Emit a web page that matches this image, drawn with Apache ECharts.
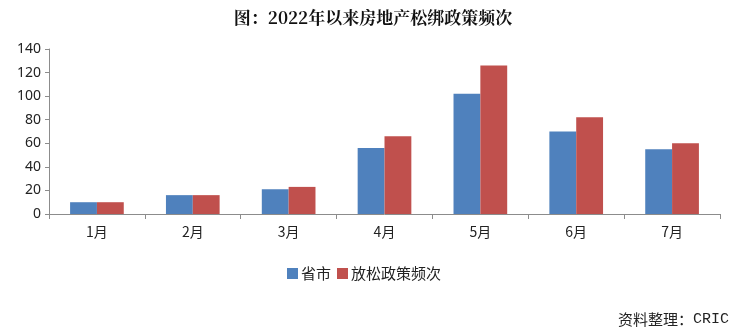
<!DOCTYPE html>
<html><head><meta charset="utf-8">
<script src="https://cdn.jsdelivr.net/npm/echarts@6/dist/echarts.min.js"></script>
<style>html,body{margin:0;padding:0;background:#fff}#c{width:746px;height:336px}</style>
</head><body><div id="c"></div>
<script>
var categories = ['1月','2月','3月','4月','5月','6月','7月'];
var provinceCity = [10, 16, 21, 56, 102, 70, 55];
var easingCount = [10, 16, 23, 66, 126, 82, 60];
var seriesNames = ['省市', '放松政策频次'];
var yTicks = [0, 20, 40, 60, 80, 100, 120, 140];

var chart = echarts.init(document.getElementById('c'), null, {renderer: 'canvas'});
chart.setOption({
  animation: false,
  backgroundColor: '#fff',
  title: [{
    text: '图：2022年以来房地产松绑政策频次',
    left: 'center', top: 4,
    textStyle: {fontFamily: '"Noto Serif CJK SC","Noto Sans CJK SC",serif', fontWeight: 'bold', fontSize: 17, color: '#111'}
  }, {
    text: '资料整理：{m|CRIC}',
    right: 12, top: 307,
    textStyle: {fontFamily: '"Noto Sans CJK SC",sans-serif', fontWeight: 'normal', fontSize: 15, color: '#222',
      rich: {m: {fontFamily: '"Liberation Mono","DejaVu Sans Mono",monospace', fontSize: 15, color: '#222'}}}
  }],
  legend: {
    data: seriesNames,
    top: 261, left: 282,
    itemWidth: 11, itemHeight: 11, itemGap: 6,
    icon: 'rect',
    textStyle: {fontFamily: '"Noto Sans CJK SC",sans-serif', fontSize: 15, color: '#222', padding: [0,0,0,-2]}
  },
  grid: {left: 49, right: 26, top: 49, bottom: 122, containLabel: false},
  xAxis: {
    type: 'category', data: categories,
    axisLine: {lineStyle: {color: '#8c8c8c', width: 1}},
    axisTick: {show: true, length: 5, lineStyle: {color: '#8c8c8c'}},
    axisLabel: {fontFamily: '"Noto Sans CJK SC",sans-serif', fontSize: 14, color: '#222', margin: 11}
  },
  yAxis: {
    type: 'value', min: yTicks[0], max: yTicks[yTicks.length-1], interval: 20,
    axisLine: {show: true, lineStyle: {color: '#8c8c8c', width: 1}},
    axisTick: {show: true, length: 4, lineStyle: {color: '#8c8c8c'}},
    splitLine: {show: false},
    axisLabel: {fontFamily: '"Noto Sans",sans-serif', fontSize: 14, color: '#222', margin: 8}
  },
  series: [{
    name: seriesNames[0], type: 'bar', data: provinceCity,
    itemStyle: {color: '#4F81BD'}, barGap: '0%', barCategoryGap: '44%'
  }, {
    name: seriesNames[1], type: 'bar', data: easingCount,
    itemStyle: {color: '#C0504D'}, barGap: '0%', barCategoryGap: '44%'
  }]
});
</script></body></html>
